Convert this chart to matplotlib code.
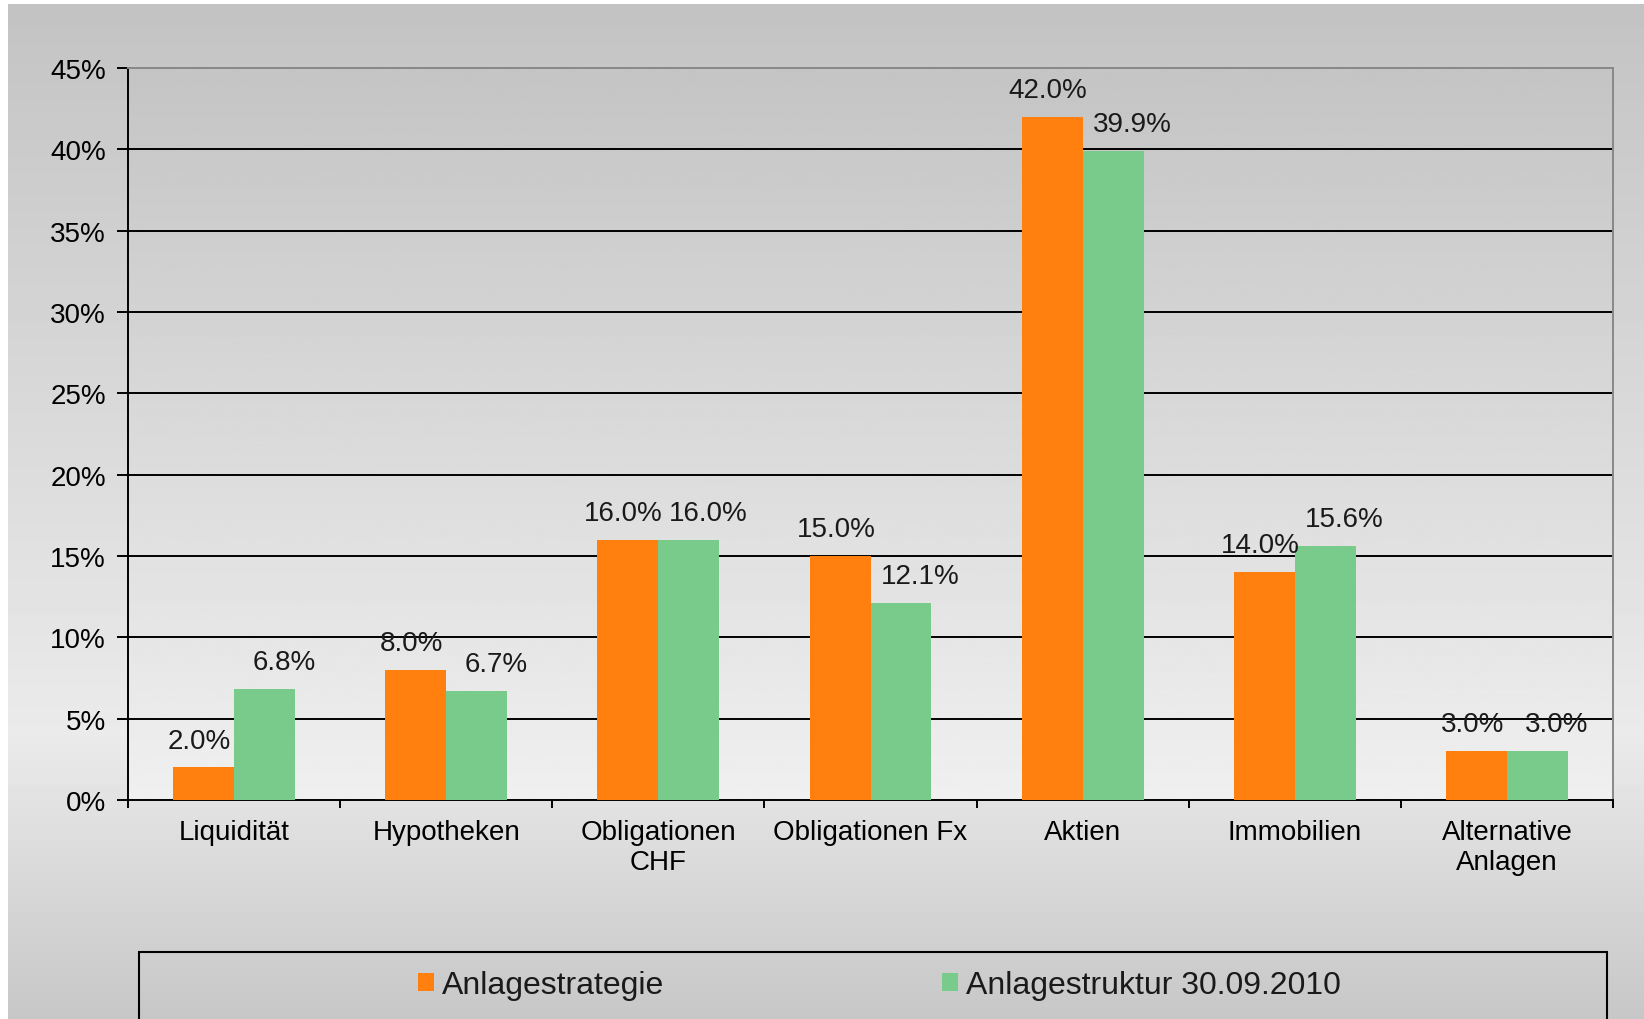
import numpy as np
import matplotlib.pyplot as plt
from matplotlib.patches import Rectangle

categories = ["Liquidität", "Hypotheken", "Obligationen\nCHF", "Obligationen Fx",
              "Aktien", "Immobilien", "Alternative\nAnlagen"]
strategie = [2.0, 8.0, 16.0, 15.0, 42.0, 14.0, 3.0]
struktur = [6.8, 6.7, 16.0, 12.1, 39.9, 15.6, 3.0]
series_names = ["Anlagestrategie", "Anlagestruktur 30.09.2010"]
yticks = [0, 5, 10, 15, 20, 25, 30, 35, 40, 45]

orange = "#FF7F0F"
green = "#79CB8B"

plt.rcParams['font.family'] = ['Liberation Sans', 'DejaVu Sans']
plt.rcParams['text.color'] = '#1a1a1a'

W, H = 1644, 1020
fig = plt.figure(figsize=(W / 100, H / 100), dpi=100, facecolor='white')

# grey gradient background of the chart (white strip top and left)
bg = fig.add_axes([8 / W, 0, 1 - 8 / W, 1 - 5 / H], zorder=-10)
yy = np.linspace(0, 1, 256)
shade = np.interp(yy, [0, 0.72, 1], [0.765, 0.92, 0.78])
bg.imshow(shade[:, None], cmap='gray', vmin=0, vmax=1, aspect='auto',
          extent=[0, 1, 0, 1])
bg.axis('off')

ax = fig.add_axes([128 / W, 1 - 801 / H, (1613 - 128) / W, (801 - 69) / H])
pshade = np.interp(yy, [0, 1], [0.77, 0.94])
ax.imshow(pshade[:, None], cmap='gray', vmin=0, vmax=1, aspect='auto',
          extent=[0, 1, 0, 1], transform=ax.transAxes, zorder=0)

for v in yticks[1:-1]:
    ax.axhline(v, color='black', lw=1.4, zorder=1)

x = np.arange(len(categories))
w = 0.287
b1 = ax.bar(x - w / 2, strategie, w, color=orange, zorder=3, label=series_names[0])
b2 = ax.bar(x + w / 2, struktur, w, color=green, zorder=3, label=series_names[1])

# value labels (Excel puts the second series' labels a bit to the right)
for xs, vals, dx in [(x - w / 2, strategie, -3), (x + w / 2, struktur, 14)]:
    for xi, v in zip(xs, vals):
        ax.annotate(f"{v:.1f}%", (xi, v), xytext=(dx, 10), textcoords='offset points',
                    ha='center', va='bottom', fontsize=20, zorder=4)

ax.set_xlim(-0.5, len(categories) - 0.5)
ax.set_ylim(0, 45)
ax.set_yticks(yticks)
ax.set_yticklabels([f"{v}%" for v in yticks])
ax.set_xticks(x)
ax.set_xticklabels(categories)
ax.set_xticks(np.arange(-0.5, len(categories)), minor=True)
ax.tick_params(axis='y', length=8, width=1.4, pad=8, labelsize=20)
ax.tick_params(axis='x', which='major', length=0, pad=14, labelsize=20)
ax.tick_params(axis='x', which='minor', length=6, width=1.4)

for s in ['left', 'bottom']:
    ax.spines[s].set_color('black')
    ax.spines[s].set_linewidth(1.4)
for s in ['top', 'right']:
    ax.spines[s].set_color('#888888')
    ax.spines[s].set_linewidth(1.4)

# legend box running off the bottom edge
fig.add_artist(Rectangle((139 / W, -0.05), (1607 - 139) / W, 0.05 + 1 - 953 / H,
                         transform=fig.transFigure, fill=False,
                         ec='black', lw=1.5))
fig.legend(handles=[b1, b2], labels=series_names, ncol=2, loc='center left',
           bbox_to_anchor=(418 / W, 1 - 986 / H), frameon=False, fontsize=23,
           handlelength=0.5, handleheight=0.5, handletextpad=0.25,
           columnspacing=8.7, borderpad=0, borderaxespad=0)

fig.savefig('out.png', dpi=100)
